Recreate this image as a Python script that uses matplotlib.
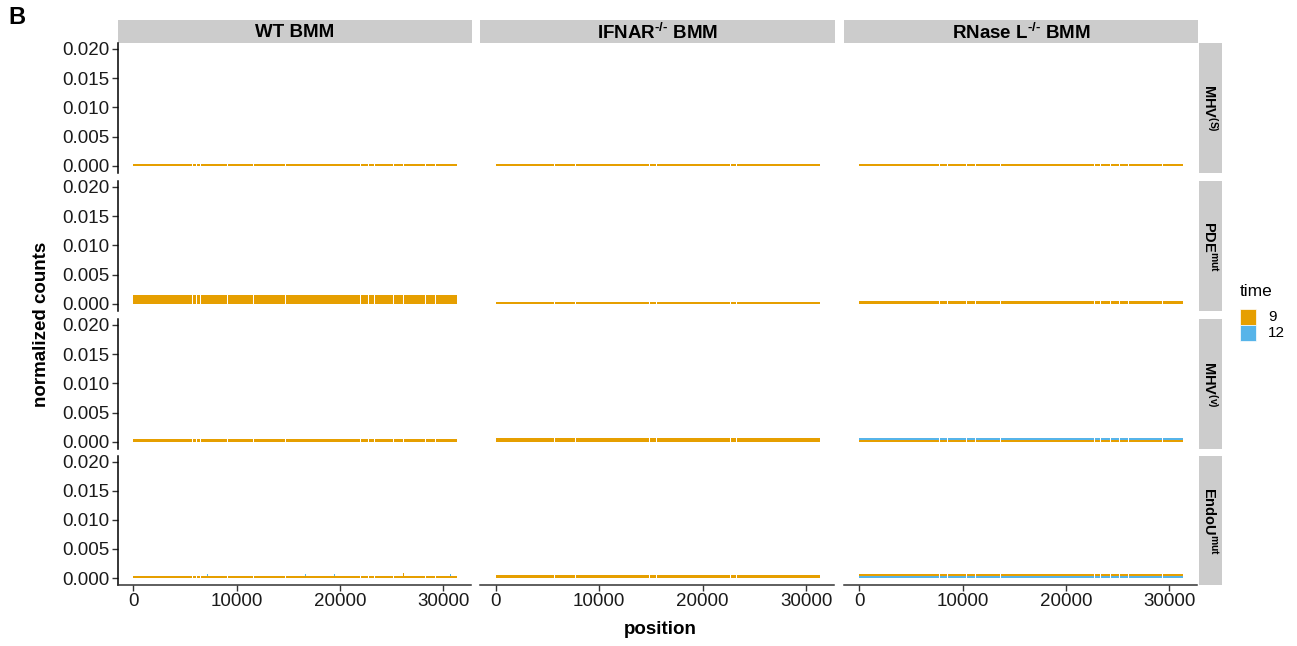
import numpy as np
import matplotlib
matplotlib.use("Agg")
import matplotlib.pyplot as plt
from matplotlib.patches import Rectangle

plt.rcParams['font.family'] = ['Liberation Sans', 'DejaVu Sans']
plt.rcParams['mathtext.fontset'] = 'custom'
plt.rcParams['mathtext.rm'] = 'Liberation Sans:bold'
plt.rcParams['mathtext.it'] = 'Liberation Sans:bold'
plt.rcParams['mathtext.bf'] = 'Liberation Sans:bold'

# facets
cells = ['WT BMM', r'IFNAR$^{\text{-/-}}$ BMM', r'RNase L$^{\text{-/-}}$ BMM']
viruses = ['MHV$^{(S)}$', 'PDE$^{mut}$', 'MHV$^{(v)}$', 'EndoU$^{mut}$']
times = ['9', '12']
colors = {'9': '#E69F00', '12': '#56B4E9'}

genome_len = 31300
gap_width = 100
# positions with no counts (per cell type)
gaps_wt = [5750, 6100, 6490, 9080, 11600, 14750, 22020, 22800, 23360, 25200, 26130, 28250, 29250]
gaps_ifnar = [5740, 7680, 14840, 15520, 22720, 23260]
gaps_rnasel = [7760, 8550, 10340, 11250, 13670, 22800, 23350, 24330, 25170, 26040, 29370]
gaps = [gaps_wt, gaps_ifnar, gaps_rnasel]

# normalized counts, stacked bottom -> top as (time, value)
counts_mhv_s = [[('9', 0.00035)], [('9', 0.00035)], [('9', 0.00035)]]
counts_pde = [[('9', 0.00155)], [('9', 0.00035)], [('9', 0.0005)]]
counts_mhv_v = [[('9', 0.00045)], [('9', 0.0006), ('12', 0.00015)], [('9', 0.0003), ('12', 0.0003)]]
counts_endou = [[('9', 0.0003)], [('9', 0.00045)], [('12', 0.0003), ('9', 0.0004)]]
counts = [counts_mhv_s, counts_pde, counts_mhv_v, counts_endou]

# isolated peaks in WT EndoU
peak_pos_12 = [7040, 7170, 7990, 16670, 18830, 19480, 20220, 30700]
peak_val_12 = [0.0007, 0.0007, 0.0007, 0.0007, 0.0007, 0.0007, 0.0007, 0.0007]
peak_pos_9 = [3240, 26180]
peak_val_9 = [0.0007, 0.0009]

W, H = 1297, 646
fig = plt.figure(figsize=(W / 100, H / 100), dpi=100)


def box(x0, y0, x1, y1):
    return [x0 / W, 1 - y1 / H, (x1 - x0) / W, (y1 - y0) / H]


col_x = [(118, 471), (480, 834), (844, 1197)]
row_y = [(43, 173), (181, 311), (319, 449), (456, 585)]
strip_c = '#CCCCCC'

for j, (x0, x1) in enumerate(col_x):
    sax = fig.add_axes(box(x0, 20, x1 + 1, 43))
    sax.set_facecolor(strip_c)
    sax.set_xticks([]); sax.set_yticks([])
    for s in sax.spines.values():
        s.set_visible(False)
    sax.text(0.5, 0.45, cells[j], ha='center', va='center', fontsize=13.5,
             fontweight='bold', transform=sax.transAxes)

for i, (y0, y1) in enumerate(row_y):
    sax = fig.add_axes(box(1199, y0, 1222, y1))
    sax.set_facecolor(strip_c)
    sax.set_xticks([]); sax.set_yticks([])
    for s in sax.spines.values():
        s.set_visible(False)
    sax.text(0.5, 0.5, viruses[i], ha='center', va='center', fontsize=10.5,
             fontweight='bold', rotation=270, transform=sax.transAxes)

for i, (y0, y1) in enumerate(row_y):
    for j, (x0, x1) in enumerate(col_x):
        ax = fig.add_axes(box(x0, y0, x1, y1))
        g = np.array(gaps[j])
        starts = np.concatenate([[0], g + gap_width / 2])
        ends = np.concatenate([g - gap_width / 2, [genome_len]])
        bottom = 0.0
        for t, v in counts[i][j]:
            ax.bar(starts, v, width=ends - starts, bottom=bottom, align='edge',
                   color=colors[t], linewidth=0, zorder=2)
            bottom += v
        if i == 3 and j == 0:
            ax.bar(peak_pos_12, peak_val_12, width=50, color=colors['12'], linewidth=0, zorder=1)
            ax.bar(peak_pos_9, peak_val_9, width=50, color=colors['9'], linewidth=0, zorder=3)

        ax.set_xlim(-1500, 32700)
        ax.set_ylim(-0.0012, 0.0210)
        for s in ['top', 'right']:
            ax.spines[s].set_visible(False)
        ax.spines['left'].set_visible(j == 0)
        ax.spines['bottom'].set_visible(i == 3)
        ax.spines['left'].set_linewidth(1.1)
        ax.spines['bottom'].set_linewidth(1.1)
        ax.spines['bottom'].set_color('#333333')
        ax.set_yticks([0, 0.005, 0.010, 0.015, 0.020])
        ax.set_xticks([0, 10000, 20000, 30000])
        ax.tick_params(length=4, width=1, color='#333333', labelsize=13.5,
                       labelcolor='#1a1a1a', pad=2)
        if j == 0:
            ax.set_yticklabels(['0.000', '0.005', '0.010', '0.015', '0.020'])
        else:
            ax.tick_params(axis='y', left=False, labelleft=False)
        if i != 3:
            ax.tick_params(axis='x', bottom=False, labelbottom=False)
        ax.patch.set_alpha(0)

fig.text(42 / W, 1 - 324 / H, 'normalized counts', rotation=90, ha='center',
         va='center', fontsize=13.5, fontweight='bold')
fig.text(660 / W, 1 - 630 / H, 'position', ha='center', va='center',
         fontsize=13.5, fontweight='bold')
fig.text(8 / W, 1 - 18 / H, 'B', ha='left', va='center', fontsize=17, fontweight='bold')

# legend for time
fig.text(1240 / W, 1 - 291 / H, 'time', ha='left', va='center', fontsize=12.5)
for k, t in enumerate(times):
    ytop = 309 + 16 * k
    fig.add_artist(Rectangle((1240 / W, 1 - (ytop + 16) / H), 16 / W, 16 / H,
                             transform=fig.transFigure, facecolor=colors[t],
                             edgecolor='white', linewidth=0.5))
    fig.text(1268 / W, 1 - (ytop + 8) / H, t, ha='left', va='center', fontsize=11)

fig.savefig('out.png', dpi=100)
